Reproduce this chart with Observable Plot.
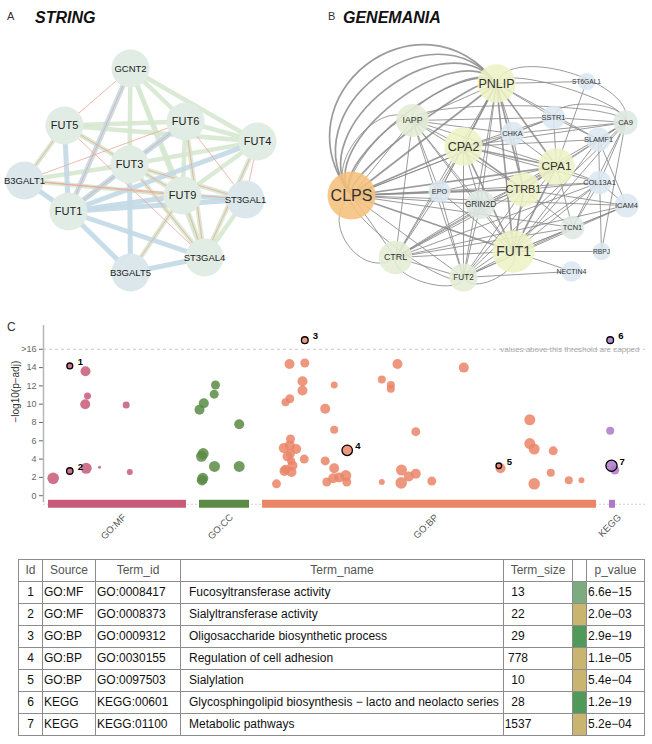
<!DOCTYPE html>
<html>
<head>
<meta charset="utf-8">
<script src="https://cdn.jsdelivr.net/npm/d3@7"></script>
<script src="https://cdn.jsdelivr.net/npm/@observablehq/plot@0.6"></script>
<style>
html,body{margin:0;padding:0;background:#fff;}
#page{position:relative;width:652px;height:744px;overflow:hidden;font-family:"Liberation Sans",Arial,sans-serif;color:#222;}
.abs{position:absolute;}
.plabel{font-size:11px;line-height:11px;color:#333;}
.title{font-size:16px;line-height:16px;font-weight:bold;font-style:italic;color:#111;}
#tbl{border-collapse:collapse;table-layout:fixed;width:626px;font-size:12px;color:#111;}
#tbl td,#tbl th{border:1px solid #8c8c8c;padding:0;height:21px;line-height:21px;white-space:nowrap;overflow:hidden;}
#tbl th{font-weight:normal;color:#555;text-align:center;}
</style>
</head>
<body>
<div id="page">
  <div class="abs plabel" style="left:7px;top:11px">A</div>
  <div class="abs title" style="left:35px;top:10px">STRING</div>
  <div class="abs plabel" style="left:328px;top:11px">B</div>
  <div class="abs title" style="left:343px;top:10px">GENEMANIA</div>
  <div class="abs plabel" style="left:7px;top:321px;font-size:12px;line-height:12px">C</div>
  <div id="netA" class="abs" style="left:0;top:40px"></div>
  <div id="netB" class="abs" style="left:326px;top:30px"></div>
  <div id="gost" class="abs" style="left:0;top:320px"></div>
  <table id="tbl" class="abs" style="left:18px;top:559px"></table>
</div>
<script>
// ================= DATA =================
// ---- Panel A: STRING network (layout positions) ----
const stringGenes = ["GCNT2","FUT5","FUT6","FUT4","FUT3","B3GALT1","FUT9","ST3GAL1","FUT1","ST3GAL4","B3GALT5"];
const stringX     = [130, 64, 185, 257, 129, 24, 182, 245, 68, 204, 130];
const stringY     = [68, 125, 121, 141, 164, 180, 195, 199, 211, 257, 272];
const stringGroup = ["a","a","a","a","a","b","a","b","a","a","b"];
// evidence type: g = co-expression/database, b = curated, r = text-mining
const stringEdges = [
  ["GCNT2","FUT6","g"],["GCNT2","FUT4","g"],["GCNT2","FUT9","g"],["GCNT2","ST3GAL4","g"],["FUT5","FUT6","g"],
  ["FUT5","FUT4","g"],["FUT5","FUT3","g"],["FUT6","FUT4","g"],["FUT6","FUT9","g"],["FUT6","ST3GAL4","g"],
  ["FUT4","FUT3","g"],["FUT4","FUT9","g"],["FUT3","FUT9","g"],["FUT3","B3GALT1","g"],["FUT3","ST3GAL1","g"],
  ["FUT9","ST3GAL4","g"],["FUT5","B3GALT1","g"],["B3GALT1","FUT9","g"],["FUT3","ST3GAL4","g"],["ST3GAL1","ST3GAL4","g"],
  ["FUT4","ST3GAL4","g"],["B3GALT5","FUT9","g"],["GCNT2","FUT3","g"],
  ["GCNT2","FUT1","b"],["FUT5","FUT1","b"],["FUT1","FUT3","b"],["FUT1","FUT6","b"],["FUT1","FUT4","b"],
  ["FUT1","FUT9","b"],["FUT1","ST3GAL1","b"],["FUT1","B3GALT1","b"],["FUT1","B3GALT5","b"],["FUT1","ST3GAL4","b"],
  ["FUT3","B3GALT5","b"],["FUT3","FUT6","b"],["ST3GAL4","B3GALT5","b"],["FUT9","ST3GAL1","b"],
  ["GCNT2","FUT5","r"],["FUT5","FUT9","r"],["FUT5","ST3GAL4","r"],["FUT5","B3GALT1","r"],["FUT6","B3GALT1","r"],
  ["FUT6","ST3GAL1","r"],["FUT6","ST3GAL4","r"],["FUT4","ST3GAL1","r"],["FUT4","ST3GAL4","r"],["B3GALT1","FUT9","r"],
  ["B3GALT1","ST3GAL1","r"],["FUT3","ST3GAL4","r"],["FUT9","ST3GAL4","r"],["B3GALT5","FUT9","r"],["GCNT2","FUT1","r"],
  ["FUT6","FUT1","r"],["FUT3","ST3GAL1","r"]
];

// ---- Panel B: GeneMANIA network ----
const geneNames = ["PNLIP","ST6GAL1","IAPP","SSTR1","CA9","CHKA","SLAMF1","CPA2","CPA1","COL13A1","CLPS",
                   "EPO","CTRB1","GRIN2D","ICAM4","TCN1","CTRL","FUT1","RBPJ","FUT2","NECTIN4"];
const geneX = [496, 586, 412, 553, 625, 512, 598, 463, 556, 599, 351, 439, 523, 480, 626, 572, 395, 513, 601, 463, 571];
const geneY = [83, 81, 120, 117, 122, 133, 139, 146, 166, 182, 195, 191, 189, 204, 205, 227, 257, 251, 251, 277, 271];
const geneScore = [0.75, 0.2, 0.6, 0.35, 0.38, 0.35, 0.37, 0.75, 0.7, 0.35, 1.0, 0.32, 0.64, 0.5, 0.37, 0.36, 0.62, 0.85, 0.2, 0.48, 0.28];
const geneGroup = ["query","other","linker","other","linker2","other","other","query","query","other","hub",
                   "other","query","linker2","other","linker2","linker","query","other","linker","other"];
// [source, target, arc index (0 = straight, ±n = n-th curved parallel edge)]
const geneEdges = [
  ["CLPS","PNLIP",0],["CLPS","PNLIP",1],["CLPS","PNLIP",2],["CLPS","PNLIP",3],["CLPS","PNLIP",4],["CLPS","PNLIP",5],["CLPS","PNLIP",6],
  ["CLPS","IAPP",0],["CLPS","IAPP",1],["CLPS","IAPP",2],
  ["CLPS","CPA2",0],["CLPS","CHKA",0],["CLPS","SSTR1",0],["CLPS","CPA1",0],["CLPS","EPO",0],["CLPS","CTRB1",0],["CLPS","GRIN2D",0],
  ["CLPS","COL13A1",0],["CLPS","TCN1",0],["CLPS","FUT1",0],["CLPS","CTRL",0],["CLPS","CTRL",-2],["CLPS","FUT2",0],["CLPS","FUT2",-1],["CLPS","ICAM4",0],
  ["IAPP","PNLIP",1],["PNLIP","ST6GAL1",0],["PNLIP","IAPP",0],["PNLIP","CPA2",0],["PNLIP","CHKA",0],["PNLIP","SSTR1",0],["PNLIP","CA9",1],
  ["PNLIP","CA9",2],["PNLIP","CPA1",0],["PNLIP","CTRB1",0],["PNLIP","GRIN2D",0],["PNLIP","FUT1",0],["PNLIP","CTRL",0],["PNLIP","FUT2",0],
  ["PNLIP","EPO",0],["PNLIP","SLAMF1",0],
  ["IAPP","SSTR1",0],["IAPP","CA9",1],["IAPP","CPA2",0],["IAPP","CTRB1",0],["IAPP","CTRL",0],["IAPP","FUT2",0],["IAPP","CPA1",0],
  ["IAPP","GRIN2D",0],["IAPP","FUT1",0],["IAPP","EPO",0],["IAPP","CHKA",0],
  ["CPA2","CPA1",0],["CPA2","CTRB1",0],["CPA2","CHKA",0],["CPA2","SSTR1",0],["CPA2","CA9",0],["CPA2","SLAMF1",0],["CPA2","FUT1",0],
  ["CPA2","CTRL",0],["CPA2","FUT2",0],["CPA2","GRIN2D",0],["CPA2","EPO",0],["CPA2","COL13A1",0],
  ["CPA1","CTRB1",0],["CPA1","CA9",0],["CPA1","FUT1",0],["CPA1","CTRL",0],["CPA1","FUT2",0],["CPA1","ST6GAL1",0],["CPA1","SSTR1",0],
  ["CPA1","COL13A1",0],["CPA1","TCN1",0],["CPA1","GRIN2D",0],["CPA1","EPO",0],["CPA1","CHKA",0],
  ["CTRB1","FUT1",0],["CTRB1","CTRL",0],["CTRB1","FUT2",0],["CTRB1","CA9",0],["CTRB1","TCN1",0],["CTRB1","GRIN2D",0],["CTRB1","EPO",0],
  ["CTRB1","COL13A1",0],["CTRB1","ICAM4",0],["CTRB1","CHKA",0],
  ["FUT1","FUT2",0],["FUT1","FUT2",1],["FUT1","CTRL",0],["FUT1","RBPJ",0],["FUT1","NECTIN4",0],["FUT1","TCN1",0],["FUT1","ICAM4",0],
  ["FUT1","CA9",0],["FUT1","COL13A1",0],["FUT1","SLAMF1",0],["FUT1","GRIN2D",0],["FUT1","EPO",0],
  ["FUT2","NECTIN4",0],["FUT2","CTRL",0],["CTRL","FUT2",-1],["FUT2","TCN1",0],["FUT2","ICAM4",0],["FUT2","CA9",0],["FUT2","GRIN2D",0],
  ["FUT2","EPO",0],["FUT2","COL13A1",0],
  ["CA9","SSTR1",0],["SSTR1","CA9",1],["CA9","SLAMF1",0],["CA9","COL13A1",0],["CA9","TCN1",0],["CA9","CTRL",0],["CA9","RBPJ",0],["CA9","CHKA",0],
  ["SLAMF1","RBPJ",0],["SLAMF1","ICAM4",0],["CTRL","TCN1",0],["CTRL","GRIN2D",0],["CTRL","EPO",0],["CTRL","ICAM4",0],["CTRL","COL13A1",0],
  ["ICAM4","COL13A1",0],["ICAM4","TCN1",0],["SSTR1","CHKA",0],["COL13A1","TCN1",0],["SSTR1","SLAMF1",0]
];

// ---- Panel C: g:Profiler Manhattan plot ----
const srcNames  = ["GO:MF","GO:CC","GO:BP","KEGG"];
const srcStart  = [48, 199, 262, 609];
const srcEnd    = [186, 249, 596, 615];
const srcColors = ["#c75b79","#5b8b45","#ea8567","#ad79c8"];
// [position along the source axis, -log10(p-adj), term size]
const mfTerms = [[85,13.6,506],[87,10.9,35],[84.7,10.0,506],[125.7,9.9,35],[85.7,3.0,1230],[99,3.1,1],[129.3,2.6,14],[52.7,1.9,2000]];
const ccTerms = [[215,12.1,208],[213.7,11.1,208],[203.3,10.1,506],[199,9.4,506],[238.7,7.8,506],[202.7,4.6,1230],
                 [201,4.3,1230],[214,3.2,1230],[238.7,3.2,1230],[202.3,1.9,1230],[201.5,1.7,800]];
const bpTerms = [[289,14.4,506],[304.3,14.5,208],[302,12.5,506],[302,11.5,506],[333.7,12.1,35],[289.3,10.6,208],[285,10.2,86],
                 [324.7,9.5,506],[333.7,7.2,86],[290,6.2,208],[283.3,5.2,506],[295.7,5.1,506],[289.3,5.5,506],[290,4.6,208],
                 [290.7,3.8,86],[303.7,4.0,208],[284,2.7,506],[291,2.6,506],[276,1.3,208],[324.7,3.8,208],[333.7,3.0,506],
                 [345.3,2.2,1230],[338.7,2.0,506],[326.3,1.5,208],[346.3,1.5,208],[332.7,1.9,506],[287,4.3,506],[292,3.3,506],
                 [285,2.9,208],[397,14.4,506],[381.3,12.7,86],[390.3,12.1,86],[390.3,11.7,86],[463.3,14.0,506],[415.3,7.0,208],
                 [401,2.8,1230],[415.3,2.4,506],[408.3,2.1,506],[400.7,1.4,2000],[381.3,1.5,14],[431.3,1.6,208],[500,3.0,506],
                 [529.3,8.3,1230],[529.3,5.7,1230],[533.7,5.1,1230],[552.7,4.9,208],[550.3,2.5,86],[533.7,1.3,2000],
                 [568.3,1.7,86],[581,1.7,14]];
const keggTerms = [[609.7,7.1,86],[614.3,2.8,208]];
const capValue = 16, capShownAt = 17;

// ---- Highlighted terms / table ----
const tblId     = [1,2,3,4,5,6,7];
const tblSource = ["GO:MF","GO:MF","GO:BP","GO:BP","GO:BP","KEGG","KEGG"];
const tblTermId = ["GO:0008417","GO:0008373","GO:0009312","GO:0030155","GO:0097503","KEGG:00601","KEGG:01100"];
const tblName   = ["Fucosyltransferase activity","Sialyltransferase activity","Oligosaccharide biosynthetic process",
                   "Regulation of cell adhesion","Sialylation","Glycosphingolipid biosynthesis \u2212 lacto and neolacto series","Metabolic pathways"];
const tblSize   = [13, 22, 29, 778, 10, 28, 1537];
const tblP      = [6.6e-15, 2.0e-3, 2.9e-19, 1.1e-5, 5.4e-4, 1.2e-19, 5.2e-4];
const hlPos     = [69.3, 69.3, 304.3, 346.7, 498.3, 609.7, 611];

// ================= PANEL A =================
const sIdx = new Map(stringGenes.map((g, i) => [g, i]));
const sNodes = stringGenes.map((g, i) => ({name: g, x: stringX[i], y: stringY[i], group: stringGroup[i]}));
const sLinks = stringEdges.map(([s, t, k]) => ({x1: stringX[sIdx.get(s)], y1: stringY[sIdx.get(s)], x2: stringX[sIdx.get(t)], y2: stringY[sIdx.get(t)], kind: k}));
const netA = Plot.plot({
  width: 326, height: 262, margin: 0,
  style: {background: "transparent", fontFamily: "Liberation Sans, Arial, sans-serif"},
  x: {domain: [0, 326], axis: null},
  y: {domain: [40, 302], reverse: true, axis: null},
  color: {domain: ["a","b"], range: ["#e1ece5","#dbe7ea"]},
  marks: [
    Plot.link(sLinks.filter(d => d.kind === "g"), {x1: "x1", y1: "y1", x2: "x2", y2: "y2", stroke: "#d6e8cf", strokeWidth: 4.5, strokeOpacity: 0.9}),
    Plot.link(sLinks.filter(d => d.kind === "b"), {x1: "x1", y1: "y1", x2: "x2", y2: "y2", stroke: "#c3d9e6", strokeWidth: 5, strokeOpacity: 0.9}),
    Plot.link(sLinks.filter(d => d.kind === "r"), {x1: "x1", y1: "y1", x2: "x2", y2: "y2", stroke: "#eea797", strokeWidth: 0.8}),
    Plot.dot(sNodes, {x: "x", y: "y", r: 19, fill: "group"}),
    Plot.text(sNodes, {x: "x", y: "y", text: "name", fill: "#222",
      fontSize: d => d.name.startsWith("FUT") ? 11 : 9.5})
  ]
});
document.getElementById("netA").appendChild(netA);

// ================= PANEL B =================
const gIdx = new Map(geneNames.map((g, i) => [g, i]));
const core = new Set(["CLPS","PNLIP","CPA2","CPA1","CTRB1","FUT1"]);
const gNodes = geneNames.map((g, i) => ({name: g, x: geneX[i], y: geneY[i], score: geneScore[i], group: geneGroup[i]}));
const gLinks = geneEdges.map(([s, t, a]) => ({
  x1: geneX[gIdx.get(s)], y1: geneY[gIdx.get(s)], x2: geneX[gIdx.get(t)], y2: geneY[gIdx.get(t)],
  arc: a, thick: core.has(s) && core.has(t)
}));
// custom curve: cubic bezier bulging to the left of the direction of travel by k px
const bendCurve = (k) => (context) => {
  let pts = [];
  return {
    areaStart() {}, areaEnd() {},
    lineStart() { pts = []; },
    point(x, y) { pts.push([+x, +y]); },
    lineEnd() {
      if (pts.length < 2) return;
      const [x0, y0] = pts[0], [x1, y1] = pts[pts.length - 1];
      const dx = x1 - x0, dy = y1 - y0, L = Math.hypot(dx, dy) || 1;
      const px = dy / L * k, py = -dx / L * k;
      context.moveTo(x0, y0);
      context.bezierCurveTo(x0 + px, y0 + py, x1 + px, y1 + py, x1, y1);
    }
  };
};
const arcs = Array.from(new Set(gLinks.map(d => d.arc)));
const linkMarks = [];
for (const a of arcs) {
  for (const thick of [false, true]) {
    const sub = gLinks.filter(d => d.arc === a && d.thick === thick);
    if (!sub.length) continue;
    linkMarks.push(Plot.link(sub, {
      x1: "x1", y1: "y1", x2: "x2", y2: "y2",
      curve: a === 0 ? "linear" : bendCurve(a * 21),
      stroke: "#8a8a8a", strokeOpacity: 0.85, strokeWidth: thick ? 1.7 : 1
    }));
  }
}
const netB = Plot.plot({
  width: 326, height: 270, margin: 0,
  style: {background: "transparent", fontFamily: "Liberation Sans, Arial, sans-serif"},
  x: {domain: [326, 652], axis: null},
  y: {domain: [30, 300], reverse: true, axis: null},
  r: {type: "linear", domain: [0, 1], range: [5, 24]},
  color: {domain: ["hub","query","linker","linker2","other"], range: ["#f6c07c","#eef2c5","#e4ecd5","#dfe8e3","#dce7f0"]},
  marks: [
    ...linkMarks,
    Plot.dot(gNodes, {x: "x", y: "y", r: "score", fill: "group", fillOpacity: 0.88}),
    Plot.text(gNodes, {x: "x", y: "y", text: "name", fill: "#333",
      fontSize: d => d.group === "hub" ? 16 : d.group === "query" ? 2 + 14 * d.score : 5.5 + 5.5 * d.score})
  ]
});
document.getElementById("netB").appendChild(netB);

// ================= PANEL C =================
const terms = [
  ...mfTerms.map(t => ({src: "GO:MF", pos: t[0], v: t[1], size: t[2]})),
  ...ccTerms.map(t => ({src: "GO:CC", pos: t[0], v: t[1], size: t[2]})),
  ...bpTerms.map(t => ({src: "GO:BP", pos: t[0], v: t[1], size: t[2]})),
  ...keggTerms.map(t => ({src: "KEGG", pos: t[0], v: t[1], size: t[2]}))
];
const hl = tblId.map((id, i) => ({id: String(id), src: tblSource[i], pos: hlPos[i], v: -Math.log10(tblP[i]), size: tblSize[i]}));
const shown = v => v > capValue ? capShownAt : v;
const sources = srcNames.map((s, i) => ({src: s, start: srcStart[i], end: srcEnd[i]}));
const yTop = 18.6, yBottom = -2.6, barHi = -0.5, barLo = -1.37;
const gost = Plot.plot({
  width: 652, height: 222, marginLeft: 43, marginRight: 7, marginTop: 5, marginBottom: 23,
  style: {background: "transparent", fontFamily: "Liberation Sans, Arial, sans-serif", fontSize: "9px", color: "#666"},
  x: {domain: [43, 645], axis: null},
  y: {domain: [yBottom, yTop], ticks: [0, 2, 4, 6, 8, 10, 12, 14, 16], tickSize: 4, tickPadding: 3,
      tickFormat: d => d >= capValue ? ">" + capValue : String(d), label: null},
  r: {type: "log", domain: [1, 3000], range: [1.5, 6]},
  color: {domain: srcNames, range: srcColors},
  marks: [
    Plot.ruleY([(barHi + barLo) / 2], {stroke: "#d4d4d4", strokeDasharray: "2,2"}),
    Plot.ruleY([capValue], {stroke: "#c8c8c8", strokeDasharray: "3,3"}),
    Plot.text([{t: "values above this threshold are capped", y: capValue}], {
      y: "y", text: "t", frameAnchor: "right", textAnchor: "end", dx: -6, fill: "#aaa", fontSize: 8}),
    Plot.ruleX([43], {y1: -0.77, y2: yTop, stroke: "#b5b5b5", strokeWidth: 1.5}),
    Plot.rect(sources, {x1: "start", x2: "end", y1: barHi, y2: barLo, fill: "src"}),
    Plot.text(sources, {x: d => (d.start + d.end) / 2 + 7, y: -2.2, text: "src", rotate: -45, textAnchor: "end",
      fontSize: 9.5, fill: "#555"}),
    Plot.dot(terms, {x: "pos", y: d => shown(d.v), r: "size", fill: "src", fillOpacity: 0.85}),
    Plot.dot(hl, {x: "pos", y: d => shown(d.v), r: "size", fill: "src", fillOpacity: 0.85, stroke: "#000", strokeWidth: 1.3}),
    Plot.text(hl, {x: "pos", y: d => shown(d.v), text: "id", dx: 8, dy: -4, textAnchor: "start", fontWeight: "bold",
      fontSize: 9.5, fill: "#000"}),
    Plot.text(["\u2212log10(p\u2212adj)"], {frameAnchor: "left", dx: -28, rotate: -90, fontSize: 10, fill: "#333"})
  ]
});
document.getElementById("gost").appendChild(gost);

// ================= TABLE =================
const fmtP = p => p.toExponential(1).replace(/e([+-])(\d+)$/, (m, s, d) => "e" + (s === "-" ? "\u2212" : "+") + d.padStart(2, "0"));
const swatch = d3.scaleThreshold().domain([12, 18]).range(["#c9b470", "#7dab80", "#4f9a58"]);
const tbl = d3.select("#tbl");
const widths = [24, 53, 85, 323, 69, 14, 58];
tbl.append("colgroup").selectAll("col").data(widths).join("col").style("width", d => d + "px");
const head = ["Id","Source","Term_id","Term_name","Term_size","","p_value"];
tbl.append("thead").append("tr").selectAll("th").data(head).join("th").text(d => d);
const rows = tblId.map((id, i) => [id, tblSource[i], tblTermId[i], tblName[i], tblSize[i], tblP[i], fmtP(tblP[i])]);
const tr = tbl.append("tbody").selectAll("tr").data(rows).join("tr");
tr.each(function(r) {
  const row = d3.select(this);
  row.append("td").style("text-align", "center").text(r[0]);
  row.append("td").style("padding-left", "1px").text(r[1]);
  row.append("td").style("padding-left", "1px").text(r[2]);
  row.append("td").style("padding-left", "8px").text(r[3]);
  row.append("td").append("span").style("display", "inline-block").style("width", "28px").style("text-align", "center").text(r[4]);
  row.append("td").style("background", swatch(-Math.log10(r[5])));
  row.append("td").style("padding-left", "1px").text(r[6]);
});
</script>
</body>
</html>
